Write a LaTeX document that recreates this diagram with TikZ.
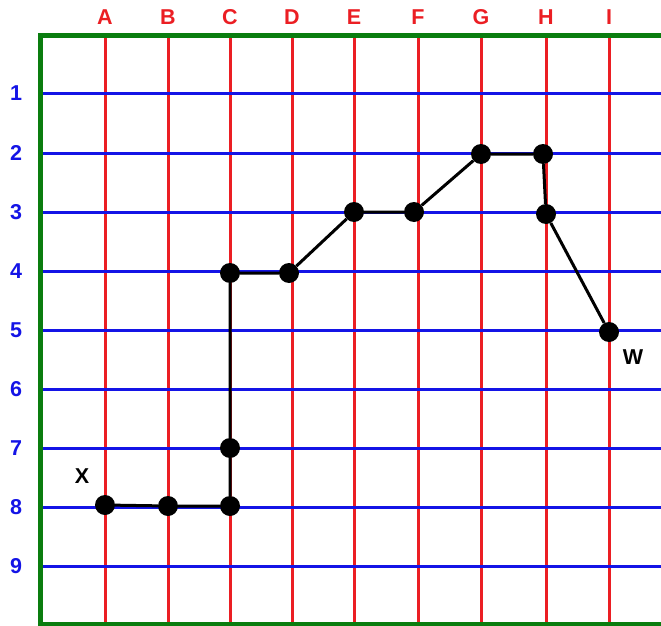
\documentclass[tikz,border=0pt]{standalone}
\usepackage{fontspec}
\setmainfont{Liberation Sans}
\usepackage{xcolor}
\usepackage{tikz}
\usetikzlibrary{positioning, calc}
\definecolor{GridRed}{RGB}{235, 30, 35}
\definecolor{GridBlue}{RGB}{20, 20, 230}
\definecolor{FrameGreen}{RGB}{10, 125, 15}

\begin{document}
\begin{tikzpicture}[x=1pt, y=-1pt, font=\fontsize{21.5}{24}\selectfont\bfseries,
    dot/.style={circle, fill=black, inner sep=0pt, minimum size=20pt},
    route/.style={black, line width=3pt}]
    \useasboundingbox (0,0) rectangle (661,626);
    % red columns
    \foreach \c/\x in {A/105, B/168, C/230, D/292, E/354, F/418, G/481, H/546, I/609} {
        \draw[GridRed, line width=3pt] (\x,36) -- (\x,624);
        \node[GridRed] at (\x,17) {\c};
    }
    % blue rows
    \foreach \r/\y in {1/93, 2/153, 3/212, 4/271, 5/330, 6/389, 7/448, 8/507, 9/566} {
        \draw[GridBlue, line width=3pt] (40,\y) -- (661,\y);
        \node[GridBlue] at (16,\y) {\r};
    }
    % green frame
    \draw[FrameGreen, line width=5pt] (661,36) -- (40,36) -- (40,624) -- (661,624);

    % route points
    \node[dot] (a8) at (105,505) {};
    \node[dot] (b8) at (168,506) {};
    \node[dot] (c8) at (230,506) {};
    \node[dot] (c7) at (230,448) {};
    \node[dot] (c4) at (230,273) {};
    \node[dot] (d4) at (289,273) {};
    \node[dot] (e3) at (354,212) {};
    \node[dot] (f3) at (414,212) {};
    \node[dot] (g2) at (481,154) {};
    \node[dot] (h2) at (543,154) {};
    \node[dot] (h3) at (546,214) {};
    \node[dot] (i5) at (609,332) {};
    \draw[route] (a8) -- (b8) -- (c8) -- (c7) -- (c4) -- (d4) -- (e3) -- (f3) -- (g2) -- (h2) -- (h3) -- (i5);

    % end labels
    \node (x) at (82,476) {X};
    \node (w) at (633,357) {W};
\end{tikzpicture}
\end{document}
